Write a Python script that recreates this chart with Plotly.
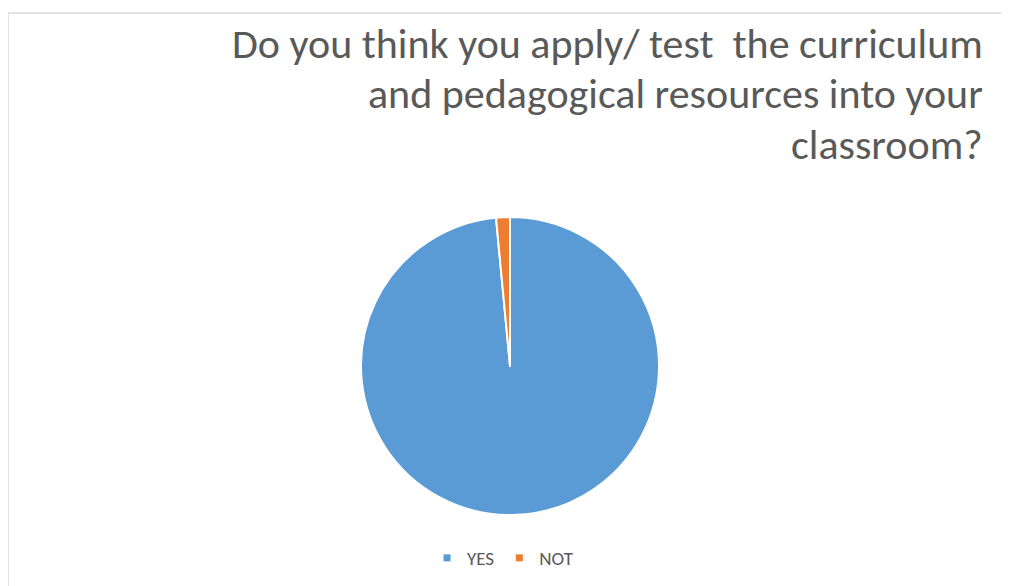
import plotly.graph_objects as go

categories = ["YES", "NOT"]
values = [98.5, 1.5]
colors = ["#5B9BD5", "#ED7D31"]
title_lines = ["Do you think you apply/ test  the curriculum",
               "and pedagogical resources into your",
               "classroom?"]

W, H = 1009, 586
OFF = 8  # page body margin
FONT = "Carlito, 'Liberation Sans Narrow', 'DejaVu Sans Condensed', 'Open Sans', sans-serif"

def px(x):
    return (x - OFF) / W

def py(y):
    return 1 - (y - OFF) / H

fig = go.Figure()
fig.add_trace(go.Pie(
    labels=categories, values=values, sort=False, direction="clockwise", rotation=0,
    marker=dict(colors=colors, line=dict(color="white", width=2)),
    textinfo="none", showlegend=False,
    domain=dict(x=[px(361), px(659)], y=[py(516), py(216)]),
))
for c, col in zip(categories, colors):
    fig.add_trace(go.Scatter(x=[None], y=[None], mode="markers", name=c,
                             marker=dict(symbol="square", size=7, color=col)))

for line, yc in zip(title_lines, [43, 94, 144]):
    fig.add_annotation(text=line, xref="paper", yref="paper", x=px(985), y=py(yc),
                       xanchor="right", yanchor="middle", align="right", showarrow=False,
                       font=dict(family=FONT, size=42, color="#595959"))
fig.add_shape(type="rect", xref="paper", yref="paper", x0=px(8), x1=px(1006), y0=py(620), y1=py(13),
              line=dict(color="#d9d9d9", width=1.5), layer="below")

fig.update_layout(
    width=W, height=H, margin=dict(l=0, r=0, t=0, b=0),
    paper_bgcolor="white", plot_bgcolor="white",
    xaxis=dict(visible=False), yaxis=dict(visible=False),
    legend=dict(orientation="h", x=px(503), xanchor="center", y=py(558), yanchor="middle",
                font=dict(family=FONT, size=19, color="#595959"), itemwidth=30),
)
fig.write_html("out.html")
